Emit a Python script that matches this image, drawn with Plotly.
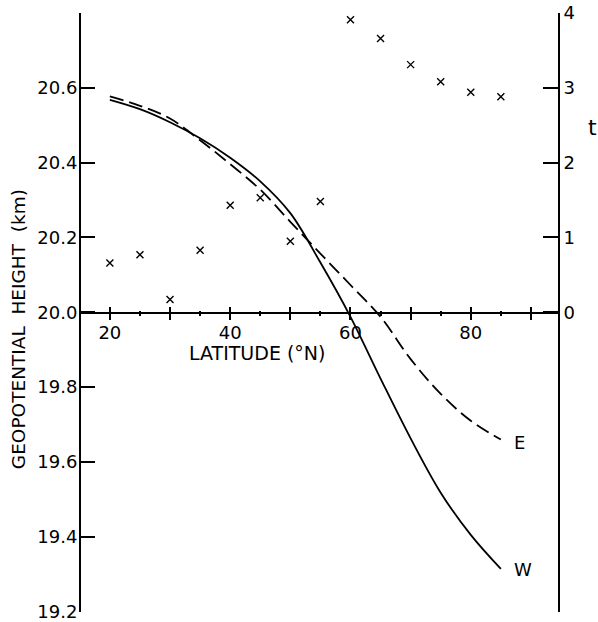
import plotly.graph_objects as go

# Latitude grid (deg N) for the zonal-mean height profiles
lat = [20, 25, 30, 35, 40, 45, 50, 55, 60, 65, 70, 75, 80, 85]

# Geopotential height (km), western (solid) and eastern (dashed) sectors
height_w = [20.568, 20.543, 20.508, 20.465, 20.413, 20.350, 20.265, 20.133,
            19.988, 19.823, 19.663, 19.518, 19.405, 19.314]
height_e = [20.577, 20.552, 20.518, 20.460, 20.396, 20.328, 20.242, 20.157,
            20.073, 19.988, 19.875, 19.782, 19.710, 19.660]

# t statistic at each latitude (right-hand axis)
t_stat = [0.66, 0.77, 0.17, 0.83, 1.43, 1.53, 0.95, 1.48,
          3.91, 3.66, 3.31, 3.08, 2.94, 2.88]

x_major = [20, 30, 40, 50, 60, 70, 80, 90]
x_labels = ["20", "", "40", "", "60", "", "80", ""]
x_minor = [25, 35, 45, 55, 65, 75, 85]
h_ticks = [19.2, 19.4, 19.6, 19.8, 20.0, 20.2, 20.4, 20.6]
t_ticks = [0, 1, 2, 3, 4]

FONT = "DejaVu Sans"
BLACK = "black"
X_RANGE = [15.2, 94.5]

fig = go.Figure()

fig.add_trace(go.Scatter(
    x=lat, y=height_w, mode="lines", line=dict(color=BLACK, width=1.8, shape="spline"),
    showlegend=False, hoverinfo="skip"))
fig.add_trace(go.Scatter(
    x=lat, y=height_e, mode="lines",
    line=dict(color=BLACK, width=1.8, shape="spline", dash="14px,6px"),
    showlegend=False, hoverinfo="skip"))
fig.add_trace(go.Scatter(
    x=lat, y=t_stat, mode="markers", yaxis="y2",
    marker=dict(symbol="x-thin-open", size=7, color=BLACK,
                line=dict(color=BLACK, width=1.4)),
    showlegend=False, hoverinfo="skip"))
# placeholder so the upward tick axis gets drawn
fig.add_trace(go.Scatter(x=[None], y=[None], xaxis="x2", showlegend=False, hoverinfo="skip"))

tick_font = dict(family=FONT, size=18, color=BLACK)

fig.update_layout(
    template="none",
    width=598, height=622,
    margin=dict(l=81, r=40, t=13, b=10, autoexpand=False),
    paper_bgcolor="white", plot_bgcolor="white",
    xaxis=dict(
        range=X_RANGE, anchor="free", position=0.5, automargin=False,
        showline=True, linecolor=BLACK, linewidth=2,
        tickmode="array", tickvals=x_major, ticktext=x_labels,
        ticks="outside", ticklen=6, tickwidth=2, tickcolor=BLACK,
        tickfont=tick_font, ticklabelstandoff=-2,
        minor=dict(tickmode="array", tickvals=x_minor, ticks="outside",
                   ticklen=2, tickwidth=2, tickcolor=BLACK, showgrid=False),
        showgrid=False, zeroline=False,
    ),
    xaxis2=dict(
        range=X_RANGE, overlaying="x", anchor="free", position=0.5, automargin=False,
        showline=False, showticklabels=False,
        tickmode="array", tickvals=x_major,
        ticks="inside", ticklen=6, tickwidth=2, tickcolor=BLACK,
        minor=dict(tickmode="array", tickvals=x_minor, ticks="inside",
                   ticklen=2, tickwidth=2, tickcolor=BLACK, showgrid=False),
        showgrid=False, zeroline=False,
    ),
    yaxis=dict(
        range=[19.199, 20.8], domain=[0, 1], automargin=False,
        showline=True, linecolor=BLACK, linewidth=2,
        tickmode="array", tickvals=h_ticks, ticktext=[f"{v:.1f}" for v in h_ticks],
        ticks="inside", ticklen=14, tickwidth=2, tickcolor=BLACK,
        tickfont=tick_font, ticklabelstandoff=-2, ticklabeloverflow="allow",
        showgrid=False, zeroline=False,
    ),
    yaxis2=dict(
        range=[-4.005, 4], overlaying="y", side="right", automargin=False,
        showline=True, linecolor=BLACK, linewidth=2,
        tickmode="array", tickvals=t_ticks, ticktext=[str(v) for v in t_ticks],
        ticks="inside", ticklen=15, tickwidth=2, tickcolor=BLACK,
        tickfont=tick_font, ticklabelstandoff=0, ticklabeloverflow="allow",
        showgrid=False, zeroline=False,
    ),
    annotations=[
        dict(text="LATITUDE (°N)", x=44.5, y=19.89, xref="x", yref="y",
             xanchor="center", yanchor="middle",
             showarrow=False, font=dict(family=FONT, size=19, color=BLACK)),
        dict(text="GEOPOTENTIAL  HEIGHT  (km)", textangle=-90,
             x=0, xshift=-63, y=19.955, xref="paper", yref="y",
             xanchor="center", yanchor="middle",
             showarrow=False, font=dict(family=FONT, size=18.5, color=BLACK)),
        dict(text="t", x=1, xshift=34, y=2.47, xref="paper", yref="y2",
             xanchor="center", yanchor="middle",
             showarrow=False, font=dict(family=FONT, size=22, color=BLACK)),
        dict(text="E", x=86.8, y=19.652, xref="x", yref="y",
             xanchor="left", yanchor="middle",
             showarrow=False, font=dict(family=FONT, size=18, color=BLACK)),
        dict(text="W", x=86.9, y=19.312, xref="x", yref="y",
             xanchor="left", yanchor="middle",
             showarrow=False, font=dict(family=FONT, size=18, color=BLACK)),
    ],
)

fig.write_html("out.html")
